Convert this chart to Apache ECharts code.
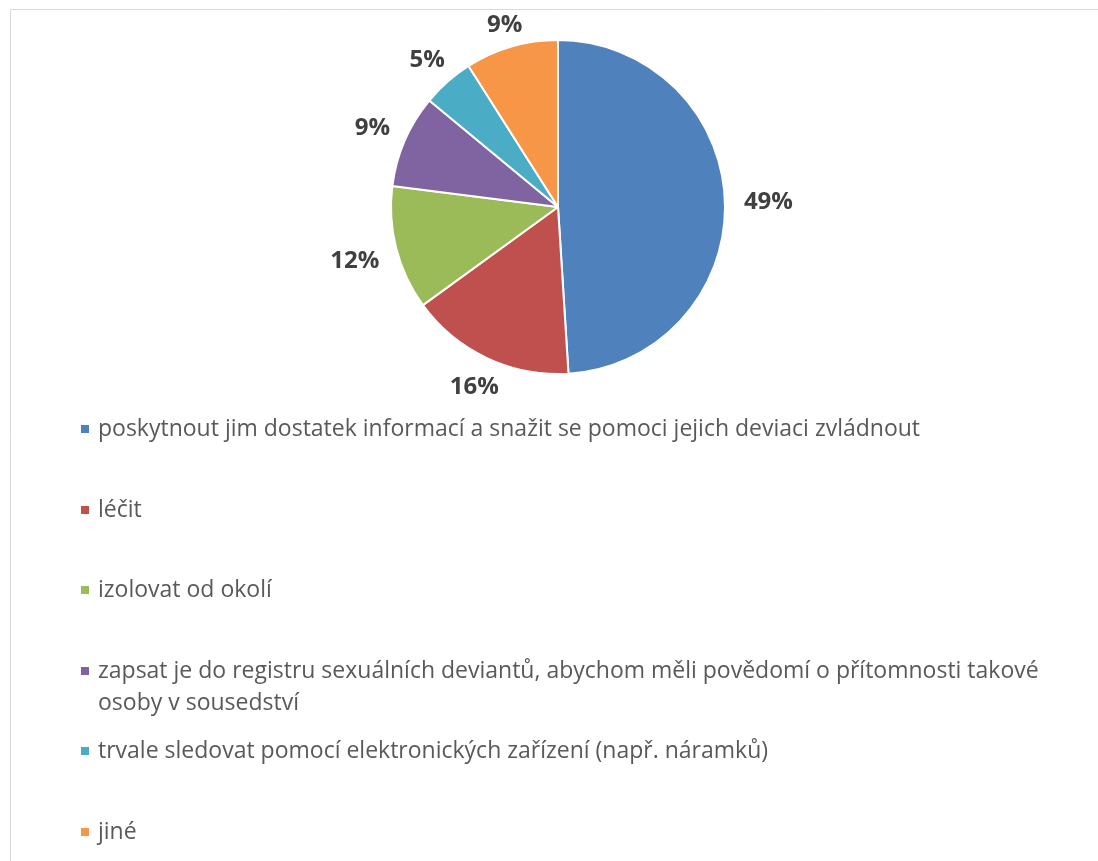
<!DOCTYPE html>
<html>
<head>
<meta charset="utf-8">
<title>Pie chart</title>
<script src="https://cdn.jsdelivr.net/npm/echarts@6/dist/echarts.min.js"></script>
<style>
  html, body { margin: 0; padding: 0; background: #ffffff; }
  #chart { width: 1098px; height: 861px; }
</style>
</head>
<body>
<div id="chart"></div>
<script>
// Answer categories and their shares (%)
const categories = [
  'poskytnout jim dostatek informací a snažit se pomoci jejich deviaci zvládnout',
  'léčit',
  'izolovat od okolí',
  'zapsat je do registru sexuálních deviantů, abychom měli povědomí o přítomnosti takové osoby v sousedství',
  'trvale sledovat pomocí elektronických zařízení (např. náramků)',
  'jiné'
];
const shares = [49, 16, 12, 9, 5, 9];
const colors = ['#4F81BD', '#C0504D', '#9BBB59', '#8064A2', '#4BACC6', '#F79646'];

// Vertical centre of each legend row
const legendRowCenters = [429, 510, 590, 671, 751, 832];

const FONT = '"Open Sans", "Noto Sans", sans-serif';
const pieCenter = [558, 207];
const pieRadius = 167;
const labelFontSize = 24;
const labelGap = 19;      // distance from the rim to the near edge of a label
const legendFontSize = 23;
const legendLine = 32;    // line height of wrapped legend entries
const legendWrap = 975;   // wrap width of legend text

const pieData = categories.map((name, i) => ({
  name: name,
  value: shares[i],
  itemStyle: { color: colors[i] }
}));

// Word-wrap a legend entry to the given pixel width.
const measureCtx = document.createElement('canvas').getContext('2d');
measureCtx.font = legendFontSize + 'px ' + FONT;
function wrapText(text, maxWidth) {
  const words = text.split(' ');
  const lines = [];
  let line = '';
  words.forEach((w) => {
    const probe = line ? line + ' ' + w : w;
    if (line && measureCtx.measureText(probe).width > maxWidth) {
      lines.push(line);
      line = w;
    } else {
      line = probe;
    }
  });
  lines.push(line);
  return lines;
}

// One legend block per entry so that each row sits on its own baseline.
const legends = categories.map((name, i) => {
  const lines = wrapText(name, legendWrap);
  const wraps = lines.length > 1;
  return {
    orient: 'vertical',
    left: 79,
    top: wraps ? legendRowCenters[i] - legendLine * (lines.length + 1) / 2
               : legendRowCenters[i] - 12,
    padding: 0,
    itemWidth: 10,
    itemHeight: 10,
    icon: 'rect',
    selectedMode: false,
    data: [name],
    // a leading blank line keeps the marker level with the first text line
    formatter: wraps ? () => '\n' + lines.join('\n') : (n) => n,
    textStyle: {
      fontFamily: FONT,
      fontSize: legendFontSize,
      color: '#595959',
      lineHeight: wraps ? legendLine : 24,
      padding: [0, 0, 0, 3]
    }
  };
});

// Push each percentage label out along its slice's mid-angle so the
// label sits just beyond the rim.
function placeOutside(params) {
  const r = params.labelRect;
  const lx = r.x + r.width / 2;
  const ly = r.y + r.height / 2;
  const vx = lx - pieCenter[0];
  const vy = ly - pieCenter[1];
  const len = Math.sqrt(vx * vx + vy * vy) || 1;
  const dx = vx / len;
  const dy = vy / len;
  const dist = pieRadius + labelGap + (r.width / 2) * Math.abs(dx);
  return {
    x: pieCenter[0] + dist * dx,
    y: pieCenter[1] + dist * dy + labelFontSize * 0.08
  };
}

const chart = echarts.init(document.getElementById('chart'), null, { renderer: 'canvas' });
chart.setOption({
  backgroundColor: '#ffffff',
  animation: false,
  color: colors,
  legend: legends,
  graphic: [{
    type: 'polyline',
    silent: true,
    shape: { points: [[10.5, 900], [10.5, 9.5], [1200, 9.5]] },
    style: { stroke: '#d9d9d9', lineWidth: 1, fill: null }
  }],
  series: [
    {
      name: 'slices',
      type: 'pie',
      center: pieCenter,
      radius: [0, pieRadius],
      startAngle: 90,
      clockwise: true,
      avoidLabelOverlap: false,
      silent: true,
      itemStyle: { borderColor: '#ffffff', borderWidth: 2 },
      label: {
        show: true,
        position: 'inside',
        formatter: '{c}%',
        fontFamily: FONT,
        fontSize: labelFontSize,
        fontWeight: 'bold',
        color: '#404040'
      },
      labelLine: { show: false },
      labelLayout: placeOutside,
      data: pieData
    }
  ]
});
</script>
</body>
</html>
